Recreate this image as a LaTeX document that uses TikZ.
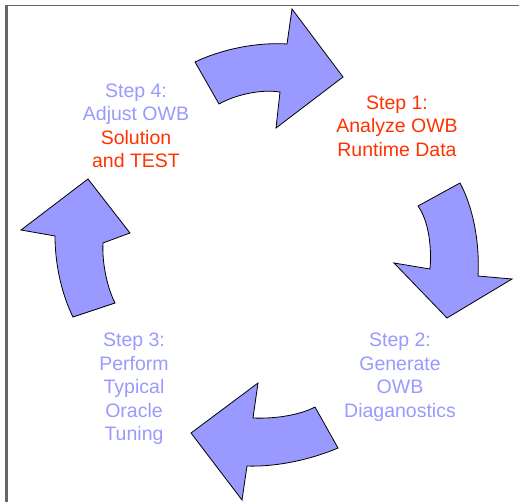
\documentclass[tikz,border=0pt]{standalone}
\usepackage{fontspec}
\setmainfont{Liberation Sans}
\definecolor{lav}{HTML}{9999FF}
\definecolor{redt}{HTML}{FF3300}
\definecolor{frame}{HTML}{666666}
\begin{document}
\begin{tikzpicture}[x=1pt,y=-1pt,
  cyclearrow/.style={fill=lav,draw=black,line width=0.8pt,line join=miter},
  steptext/.style={align=center,font=\fontsize{19.5}{23.5}\selectfont,inner sep=0pt}]
\useasboundingbox (0,0) rectangle (519,502);
% frame
\draw[frame,line width=1.5pt] (5.5,5.5) -- (519,5.5);
\draw[frame,line width=2.2pt] (6.5,5) -- (6.5,502);
% top arrow
\draw[cyclearrow] (195,62) .. controls (220,50) and (255,42) .. (287,44) -- (292,9) -- (343,77) -- (276,128) -- (280,92) .. controls (260,89) and (235,95) .. (219,104) -- cycle;
% right arrow
\draw[cyclearrow] (418,206) -- (460,183) .. controls (472,205) and (480,240) .. (478,276) -- (512,279) -- (447,318) -- (394,263) -- (430,269) .. controls (432,245) and (428,220) .. cycle;
% bottom arrow
\draw[cyclearrow] (315,407) -- (338,448) .. controls (305,462) and (270,467) .. (247,466) -- (242,500) -- (191,433) -- (258,383) -- (253,418) .. controls (275,419) and (300,415) .. cycle;
% left arrow
\draw[cyclearrow] (73,317) -- (115,303) .. controls (106,285) and (102,260) .. (103,243) -- (130,233) -- (88,179) -- (21,230) -- (55,236) .. controls (55,265) and (62,295) .. cycle;
% texts
\node[steptext] (s4) at (136,126) {\color{lav}Step 4:\\\color{lav}Adjust OWB\\\color{redt}Solution\\\color{redt}and TEST};
\node[steptext,text=redt] (s1) at (397,126) {Step 1:\\Analyze OWB\\Runtime Data};
\node[steptext,text=lav] (s2) at (400,377) {Step 2:\\Generate\\OWB\\Diaganostics};
\node[steptext,text=lav] (s3) at (134,389) {Step 3:\\Perform\\Typical\\Oracle\\Tuning};
\end{tikzpicture}
\end{document}
